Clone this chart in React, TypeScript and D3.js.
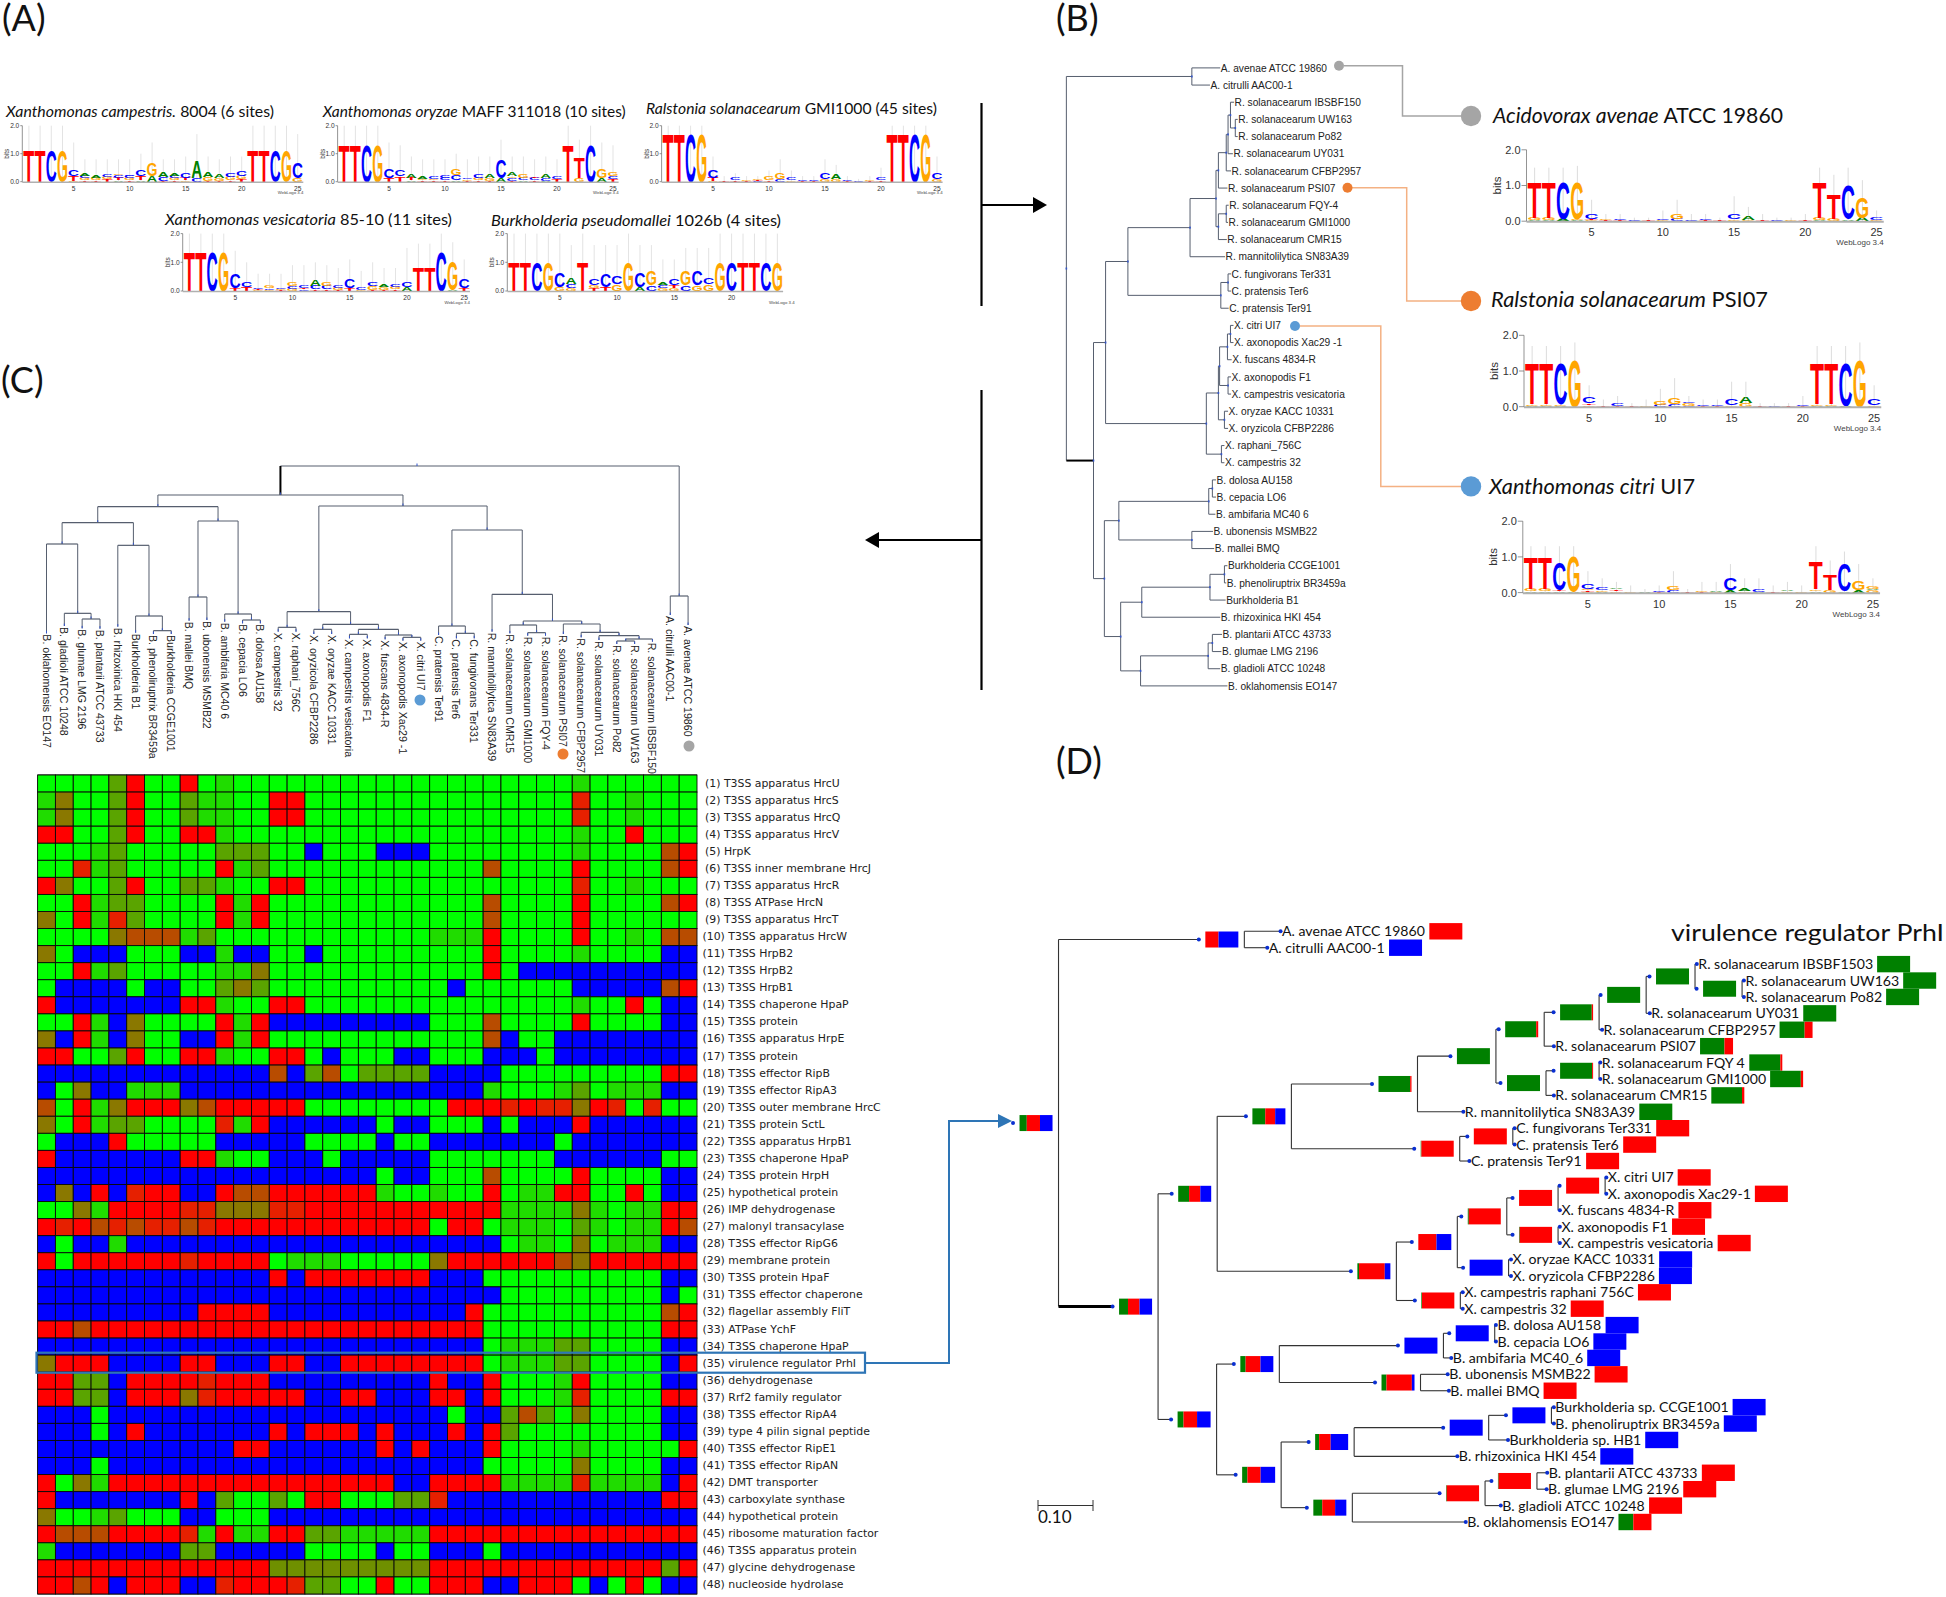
import React from "react";
import * as d3 from "d3";

// ---------- PANEL C HEATMAP ----------
const heatRows = [
"GGGGhRGGRGgGGGGGGGGGGGGGGGGGGGgGGGGGG","goGGhRGGhggGGRRGGGGGGGGGGGGGGGrGGgGGG","goGGhRGGhggGGRRGGGGGGGGGGGGGGGrGGgGGG","RRGGhRGGRRgGGGGGGGGGGGGGGGGGGGgGGRGGG",
"GGGghGGGGGhhhGGBGGGBBBGGGGGGGGgGGGGnR","GGrghGGGGGRghGGGGGGGGGGGGnGGGGRGGGGnR","RoGGhRGGhhgGGRRGGGGGGGGGGGGGGGrGGgGGG","GGRghhGGGGRgRGGGGGGGGGGGGnGGGGRGGGGnR",
"oGRgrhGGGGRgRGGGGGGGGGGGGnGGGGRGGGGGG","GGGGonnnghGGGGGGGGGGGGgggRGGGGRGGgGnn","oGBBBGGGBBgBBGGBGGGGGGGGGRGGGGgGGGGBB","GGRghGGGGGggoGGGGGGGGGGGGRGBBBBBBBBBB",
"GBBBBGBBGGhohGGGGGGGGGGBGGGGGGBBBBBnR","RBBBBBBBRRgGGRRGGGGGGGGGGGGGGGgGGRGBB","GGRgBoGGGGRgRBBBBBBBBBGGGnGGGGRGGGGBB","oBRgBoGGBBRgRGGGGGGGGGGGGnBGGBBBBBBBB",
"RRGGhRGGRRgGGRRGBGGGBBGGGBBBGBBBBBBBB","BBBBBBBBBBBBBnBhnGhhhhBBBBGGGGGGGGGRR","BGoBBgggBBBBBBBBBBBBBBBBBgGGGghGgggBB","nGRgoRRRonRRRRRGGGGGGGGRRRrRrroRrGrGG",
"oGRghhGGGGrgRBBBBBBGBBGGGBGBBBRBBBBBB","GBBBRGGGGGBBBBBGGGGBGGBBBBBBBGBBBBBBB","RBBBBBBBRRgGGBBBGBBBBBGGGGGGGBBBBBBGG","BBBBBBBBBBBBBBBBBBBGBBGGGnGGGGRGGGGBB",
"BoBRBrRRBBRnnRRRRRRgGGgGGRGggRRGGRGBB","GGogRRRRrrooorrRRRRRRRRRRRggggogGggRR","RrRnrnrrnrRRRRRRRRRRRRGRRGgggGhgGggRn","BGBBgBBBBBBBBBBBBBBBBBBBBBGggGoGgggBB",
"RGRRRRRRrRRRRGgggGGGGGoRRRRRRnoRRRRRR","BBBBBBBBBBBBBRBRRRRRRRBBBGGGGGGGGGGBB","BBBBBBBBBBBBBBBBBBBBBBBBBBGGGGGGGGGBG","BBBBBBBBBRRRRBBBBBBBBBBBRGGGGGGGGGGnR",
"RRnRRRRRRRRRRRRRRRRRRRRRRGGGGGGGGGGRR","BBBBBBBBBBBBBBBBBBBBBBBBBGggghhGGGGBB","oRRRBBBBRRBBBRRBBRRRRRRRRGggghhGGGGBR","RRhhBRRRRrRRRBBBBBBBBBRBBRGGGgRGGGGBB",
"RRhhBRRRorRRRRRBBRRBBBRRBRGGGgrGGGGRR","BBBGBBBBBBBBBBBBBBBBBBBGBBhnhGoGGGGBB","BBBGBRBBBBBBBRBRRRBRBBBRBRhGGGGGGGGBB","BBBBBBBBBBBRRBBBBBBRBRBBBRGGGGgGGGGGR",
"BBBGBBBBBBBBBBBBBBBBBBBBBGGGGGoGGGGBB","RGogRRRRRRRRRRRRRRRRBBRRRRggggrggggBR","RBBBBBBBRBhGGhGRRGGGhhrBBBBBBBBBBBBRR","oGGghGGGBBGGGBBBBBBBBBBBBBBBBBBBBBBBB",
"RnnnRRRRrgRggRRhhgggggRRRRRRRRRRRRRRR","gBBBBBBBhhBBBBBGGGGBGGBBBGBBBBBBBBBBB","RRRRRRRRRRRRRvvvvvvvvvRRRRRRRRRRRRRhR","RRnRBRRRBBrRRRrhhGGRGGRRRBBRRRGBGRGBB",
];
const heatColors: Record<string,string> = {G:"#00ff00",g:"#20dc00",h:"#5aa400",v:"#6f9000",o:"#8a7800",n:"#b84c00",r:"#e62000",R:"#ff0000",B:"#0000ff"};
const geneLabels = ["T3SS apparatus HrcU","T3SS apparatus HrcS","T3SS apparatus HrcQ","T3SS apparatus HrcV","HrpK","T3SS inner membrane HrcJ","T3SS apparatus HrcR","T3SS ATPase HrcN","T3SS apparatus HrcT","T3SS apparatus HrcW","T3SS HrpB2","T3SS HrpB2","T3SS HrpB1","T3SS chaperone HpaP","T3SS protein","T3SS apparatus HrpE","T3SS protein","T3SS effector RipB","T3SS effector RipA3","T3SS outer membrane HrcC","T3SS protein SctL","T3SS apparatus HrpB1","T3SS chaperone HpaP","T3SS protein HrpH","hypothetical protein","IMP dehydrogenase","malonyl transacylase","T3SS effector RipG6","membrane protein","T3SS protein HpaF","T3SS effector chaperone","flagellar assembly FliT","ATPase YchF","T3SS chaperone HpaP","virulence regulator PrhI","dehydrogenase","Rrf2 family regulator","T3SS effector RipA4","type 4 pilin signal peptide","T3SS effector RipE1","T3SS effector RipAN","DMT transporter","carboxylate synthase","hypothetical protein","ribosome maturation factor","T3SS apparatus protein","glycine dehydrogenase","nucleoside hydrolase"];

// ---------- TREES (nested: [distance, ...children] / [distance, name]) ----------
const treeB: any = [110,
 [318,[365,"A. avenae ATCC 19860"],[348,"A. citrulli AAC00-1"]],
 [155,
  [175,
   [212,
    [315,
     [358,
      [362,
       [375,
        [378,
         [382,[388,"R. solanacearum IBSBF150"],[390,[394,"R. solanacearum UW163"],[394,"R. solanacearum Po82"]]],
         [386,"R. solanacearum UY031"]],
        [383,"R. solanacearum CFBP2957"]],
       [377,"R. solanacearum PSI07"]],
      [362,[375,[379,"R. solanacearum FQY-4"],[378,"R. solanacearum GMI1000"]],[376,"R. solanacearum CMR15"]]],
     [373,"R. mannitolilytica SN83A39"]],
    [366,[378,[383,"C. fungivorans Ter331"],[383,"C. pratensis Ter6"]],[379,"C. pratensis Ter91"]]],
   [342,
    [362,
     [364,[377,[382,[387,"X. citri UI7"],[387,"X. axonopodis Xac29 -1"]],[384,"X. fuscans 4834-R"]],[378,[383,"X. axonopodis F1"],[383,"X. campestris vesicatoria"]]],
     [372,[378,"X. oryzae KACC 10331"],[378,"X. oryzicola CFBP2286"]]],
    [367,[372,"X. raphani_756C"],[372,"X. campestris 32"]]]],
  [173,
   [197,
    [346,[352,[358,"B. dolosa AU158"],[358,"B. cepacia LO6"]],[357,"B. ambifaria MC40 6"]],
    [318,[353,"B. ubonensis MSMB22"],[355,"B. mallei BMQ"]]],
   [200,
    [235,
     [348,[372,[377,"Burkholderia CCGE1001"],[375,"B. phenoliruptrix BR3459a"]],[374,"Burkholderia B1"]],
     [365,"B. rhizoxinica HKI 454"]],
    [233,
     [345,[352,[368,"B. plantarii ATCC 43733"],[367,"B. glumae LMG 2196"]],[365,"B. gladioli ATCC 10248"]],
     [377,"B. oklahomensis EO147"]]]]]];

const treeC: any = [78,
 [165,
  [200,
   [248,
     [312,[580,"B. oklahomensis EO147"],[520,[558,"B. gladioli ATCC 10248"],[537,[565,"B. glumae LMG 2196"],[566,"B. plantarii ATCC 43733"]]]],
     [316,[560,"B. rhizoxinica HKI 454"],[528,[578,"Burkholderia B1"],[572,[582,"B. phenoliruptrix BR3459a"],[582,"Burkholderia CCGE1001"]]]]],
   [243,
     [471,[542,"B. mallei BMQ"],[540,"B. ubonensis MSMB22"]],
     [522,[545,"B. ambifaria MC40 6"],[540,[550,"B. cepacia LO6"],[550,"B. dolosa AU158"]]]]],
  [198,
   [515,
     [562,[575,"X. campestris 32"],[575,"X. raphani_756C"]],
     [553,
       [568,[582,"X. oryzicola CFBP2286"],[582,"X. oryzae KACC 10331"]],
       [568,
         [583,[595,"X. campestris vesicatoria"],[595,"X. axonopodis F1"]],
         [585,[598,"X. fuscans 4834-R"],[592,[602,"X. axonopodis Xac29 -1"],[602,"X. citri UI7"]]]]]],
   [270,
     [558,[585,"C. pratensis Ter91"],[580,[595,"C. pratensis Ter6"],[595,"C. fungivorans Ter331"]]],
     [463,
       [575,"R. mannitolilytica SN83A39"],
       [543,
         [555,[580,"R. solanacearum CMR15"],[578,[587,"R. solanacearum GMI1000"],[587,"R. solanacearum FQY-4"]]],
         [552,
           [582,"R. solanacearum PSI07"],
           [577,
             [592,"R. solanacearum CFBP2957"],
             [587,
               [600,"R. solanacearum UY031"],
               [597,[603,[612,"R. solanacearum Po82"],[612,"R. solanacearum UW163"]],[605,"R. solanacearum IBSBF150"]]
             ]
           ]
         ]
       ]
     ]
   ]
  ]
 ],
 [468,[525,"A. citrulli AAC00-1"],[555,"A. avenae ATCC 19860"]]];

// composition shares [green, red, blue]
const G = [1,0,0], R = [0,1,0], B = [0,0,1];
const treeD: any = [97,[.22,.4,.38],
 [405,[0,.4,.6],[465,R,"A. avenae ATCC 19860"],[443,B,"A. citrulli AAC00-1"]],
 [262,[.27,.35,.38],
  [360,[.33,.34,.33],
   [483,[.39,.3,.31],
    [692,[.96,.04,0],
     [822,G,
      [902,[.94,.06,0],
       [993,[.96,.04,0],
        [1071,G,
         [1152,G,[1155,G,"R. solanacearum IBSBF1503"],[1230,G,[1233,G,"R. solanacearum UW163"],[1233,G,"R. solanacearum Po82"]]],
         [1077,G,"R. solanacearum UY031"]],
        [998,[.76,.24,0],"R. solanacearum CFBP2957"]],
       [918,[.74,.26,0],"R. solanacearum PSI07"]],
      [905,G,[993,[.97,.03,0],[995,[.94,.06,0],"R. solanacearum FQY 4"],[995,[.93,.07,0],"R. solanacearum GMI1000"]],[918,[.93,.07,0],"R. solanacearum CMR15"]]],
     [768,G,"R. mannitolilytica SN83A39"]],
    [762,[.02,.98,0],[850,R,[853,R,"C. fungivorans Ter331"],[853,R,"C. pratensis Ter6"]],[778,R,"C. pratensis Ter91"]]],
   [657,[.05,.78,.17],
    [758,[0,.55,.45],
     [840,[.03,.97,0],
      [925,R,[1003,R,[1005,R,"X. citri UI7"],[1005,R,"X. axonopodis Xac29-1"]],[928,R,"X. fuscans 4834-R"]],
      [925,[.02,.98,0],[928,R,"X. axonopodis F1"],[928,R,"X. campestris vesicatoria"]]],
     [843,B,[847,B,"X. oryzae KACC 10331"],[847,B,"X. oryzicola CFBP2286"]]],
    [763,[.02,.98,0],[767,R,"X. campestris raphani 756C"],[767,R,"X. campestris 32"]]]],
  [359,[.18,.41,.41],
   [463,[.16,.45,.39],
    [735,B,[820,B,[822,B,"B. dolosa AU158"],[822,B,"B. cepacia LO6"]],[748,B,"B. ambifaria MC40_6"]],
    [697,[.15,.77,.08],[742,R,"B. ubonensis MSMB22"],[744,R,"B. mallei BMQ"]]],
   [466,[.16,.4,.44],
    [587,[.12,.35,.53],
     [810,B,[914,B,[918,B,"Burkholderia sp. CCGE1001"],[918,B,"B. phenoliruptrix BR3459a"]],[842,B,"Burkholderia sp. HB1"]],
     [758,B,"B. rhizoxinica HKI 454"]],
    [584,[.27,.39,.34],
     [804,[.02,.98,0],[890,[.02,.98,0],[907,R,"B. plantarii ATCC 43733"],[906,R,"B. glumae LMG 2196"]],[830,R,"B. gladioli ATCC 10248"]],
     [772,[.45,.55,0],"B. oklahomensis EO147"]]]]]];

// ---------- SEQUENCE LOGOS (stacks bottom to top, bits) ----------
const logoCampestris = ["T1.15","T1.15","C1.15","G1.15","G.03 T.17 C.25","T.05 G.07 C.07 A.08","T.05 G.1 A.1","T.1 G.08 C.1","A.05 T.08 C.1 G.05","T.05 G.07 C.08 C.06","A.05 T.15 C.25","A.22 G.45","T.03 C.15 A.2","T.05 G.08 C.08 A.08","G.05 T.07 C.2","C.14 A.6","T.04 G.12 A.2","T.03 G.1 A.14","T.06 G.12 C.14","T.08 G.12 C.18","T1.15","T1.15","C1.15","G1.15","G.12 C.55"];
const errCampestris = [2,2,2,2,1.4,.8,.8,.8,.8,.8,1,1.4,.8,.8,.9,1.7,.9,.8,.9,.9,2,2,2,2,1.7];
const logoOryzae = ["T1.35","T1.35","C1.35","G1.35","T.15 C.35","T.2 C.25","A.05 T.1 A.15","T.05 G.06 A.07","T.05 G.05 C.08","T.05 C.08 C.08","A.05 C.2 G.25","T.03 G.05 C.06","T.06 G.08 C.14","T.04 G.1 A.15","A.15 C.65","T.03 C.1 G.06 A.15","A.05 C.1 G.15","T.05 C.08 T.06","A.04 C.1 A.15","T.08 C.08","T1.35","G.15 T.75","C1.35","A.12 G.35","T.1 C.1 G.12"];
const errOryzae = [2,2,2,2,1.4,1.3,.9,.8,.8,.8,1,.8,.9,.9,1.5,.9,.9,.8,.9,.8,2,1.5,2,1.4,1.3];
const logoGmi = ["T1.75","T1.75","C1.75","G1.75","G.03 T.12 C.3","T.02","T.05 C.1","T.03 G.05","C.03 T.03 G.04","T.06 G.15","C.1 G.25","G.05 C.1","T.03 C.02","T.02 C.06","G.1 C.25","G.1 A.2","T.02 C.03","C.03","T.02 G.04","T.05 C.1","T1.75","T1.75","C1.75","G1.75","G.1 C.25"];
const errGmi = [2,2,2,2,.9,.2,.3,.2,.2,.4,.8,.4,.2,.2,.8,.6,.2,.1,.2,.5,2,2,2,2,.9];
const logoVes = ["T1.4","T1.4","C1.4","G1.4","T.1 C.5","T.15 C.2","G.03 T.05 C.06","G.05 C.06 G.08","T.03 G.05 C.06","G.08 C.1 G.12","C.06 T.06 C.1","T.06 C.12 A.25","T.06 C.12 G.15","T.05 G.07 C.1","T.1 C.3","G.05 C.1","T.05 G.12 C.15","T.05 G.08 A.08","T.06 G.08 C.08","A.15 C.2","T.85","T.85","C1.4","A.05 G1","T.1 C.3"];
const errVes = [2,2,2,2,1.4,1,.6,.6,.6,.9,.9,1,.9,.8,1.1,.7,1,.8,.8,1.5,1.65,1.65,2,1.7,1.1];
const logoPseudo = ["T1","T1","C1","G1","G.15 C.5","G.1 C.15 A.25","T1","T.1 G.1 C.25","T.15 C.45","G.25 C.27","G1","A.15 C.5","C.2 G.5","G.1 C.1 A.1","G.1 T.1 C.25","C.2 G.5","G.2 C.5","G.25 C.25","G1","C1","T1","T1","C1","G1"];
const errPseudo = [2,2,2,2,2,1.6,2,1.6,1.6,1.6,2,1.6,1.6,1.1,1.1,1.5,1.5,1.5,2,2,2,2,2,2];
const logoAvenae = ["A.03 G.07 T1","A.03 G.07 T1","A.07 C1.03","A.03 G.03 G1.03","G.03 T.04 C.15","T.02 G.02","T.02 C.02","C.02","T.02","G.02 C.04","C.06 G.14","C.03","T.02 C.02","T.02","G.05 C.16","G.04 A.1","T.02","C.02","G.02","T.02","A.03 G.06 T1","G.06 T.7","A.05 C.98","A.1 G.6","G.04 C.08"];
const errAvenae = [1.5,1.5,1.5,1.55,.6,.2,.2,.1,.1,.3,.6,.2,.2,.1,.7,.4,.2,.1,.1,.2,1.5,1.3,1.5,1.15,.3];
const logoPsi = ["A.03 G.05 T1.15","A.03 G.05 T1.15","A.03 G.05 C1.15","G1.35","G.05 T.04 C.2","T.02","T.02 C.08","T.03","G.03","C.06 G.12","C.08 G.2","C.03 G.08 C.03","T.03 C.03","T.02 C.02","G.05 C.2","G.1 A.2","T.02","C.02","T.02","T.02 C.05","A.03 G.05 T1.15","A.03 G.05 T1.15","A.03 C1.25","G1.35","G.05 C.18"];
const errPsi = [1.7,1.7,1.7,1.8,.6,.2,.3,.1,.2,.5,.8,.3,.2,.2,.7,.7,.1,.1,.1,.3,1.7,1.7,1.7,1.8,.6];
const logoCitri = ["A.04 G.06 T.9","A.04 G.06 T.9","A.04 T.03 C.8","A.03 G1","G.03 T.03 G.05 C.15","A.03 G.05 C.07","G.04 T.05 A.03","G.03","A.02","T.02 C.04","C.06 G.12","T.02","T.03 G.04","G.03 A.03","A.06 C.35","G.05 A.08","A.03 C.06","T.05","G.05 A.05","G.04","A.05 G.05 T.8","G.08 T.45","A.05 C.8","A.07 G.25","G.06 A.04 G.06"];
const errCitri = [1.3,1.3,1.3,1.3,.6,.4,.3,.2,.1,.2,.6,.1,.3,.3,.8,.4,.4,.2,.3,.2,1.3,.9,1.15,.8,.4];

const logosA = [
 {title:["Xanthomonas campestris."," 8004 (6 sites)"],stacks:logoCampestris,err:errCampestris},
 {title:["Xanthomonas oryzae"," MAFF 311018 (10 sites)"],stacks:logoOryzae,err:errOryzae},
 {title:["Ralstonia solanacearum"," GMI1000 (45 sites)"],stacks:logoGmi,err:errGmi},
 {title:["Xanthomonas vesicatoria"," 85-10 (11 sites)"],stacks:logoVes,err:errVes},
 {title:["Burkholderia pseudomallei"," 1026b (4 sites)"],stacks:logoPseudo,err:errPseudo},
];
const logosB = [
 {title:["Acidovorax avenae"," ATCC 19860"],stacks:logoAvenae,err:errAvenae},
 {title:["Ralstonia solanacearum"," PSI07"],stacks:logoPsi,err:errPsi},
 {title:["Xanthomonas citri"," UI7"],stacks:logoCitri,err:errCitri},
];

const letterColor: Record<string,string> = {T:"#ff0000",C:"#0000ff",G:"#ffa500",A:"#008000"};
const letterAdv: Record<string,number> = {T:.611,C:.722,G:.778,A:.722};
const SANS = "'Liberation Sans', Arial, sans-serif";
const CAL = "Lato, 'Open Sans', sans-serif";

function Logo({stacks,err,x0,y0,col,bit,small}:{stacks:string[],err:number[],x0:number,y0:number,col:number,bit:number,small:boolean}) {
  const yS = d3.scaleLinear().domain([0,2]).range([y0,y0-2*bit]);
  const xS = d3.scaleLinear().domain([0,stacks.length]).range([x0,x0+col*stacks.length]);
  const fs = small?6.6:11;
  const tks = [0,1,2];
  const tl = small?3:6;
  return <g>
    {err.map((e,i)=><line key={"e"+i} x1={xS(i+.5)} x2={xS(i+.5)} y1={y0} y2={yS(e)} stroke="#dcdcdc" strokeWidth={small?.8:1}/>)}
    {stacks.map((s,i)=>{
      let acc=0;
      return <g key={i}>{s.split(" ").map((t,j)=>{
        const L=t[0],v=parseFloat(t.slice(1));
        const by=yS(acc); acc+=v;
        const h=by-yS(acc);
        const sx=(col*.98)/(letterAdv[L]*10), sy=h/7.2;
        return <text key={j} transform={`translate(${xS(i)},${by}) scale(${sx},${sy})`} fontFamily={SANS} fontWeight={700} fontSize={10} fill={letterColor[L]}>{L}</text>;
      })}</g>;
    })}
    <line x1={x0-1} x2={xS(stacks.length)} y1={y0+.6} y2={y0+.6} stroke="#b0b0b0" strokeWidth={small?1.5:2}/>
    <line x1={x0-1} x2={x0-1} y1={y0} y2={yS(2)} stroke="#666" strokeWidth={.7}/>
    {tks.map(t=><g key={t}>
      <line x1={x0-tl} x2={x0-1} y1={yS(t)} y2={yS(t)} stroke="#666" strokeWidth={.7}/>
      <text x={x0-tl-1} y={yS(t)+fs*.36} textAnchor="end" fontFamily={SANS} fontSize={fs} fill="#333">{t.toFixed(1)}</text>
    </g>)}
    <text transform={`translate(${x0-(small?14:27)},${yS(1)}) rotate(-90)`} textAnchor="middle" fontFamily={SANS} fontSize={small?6.4:11.5} fill="#333">bits</text>
    {[5,10,15,20,25].filter(t=>t<=stacks.length).map(t=><text key={t} x={xS(t-.5)} y={y0+(small?9:15)} textAnchor="middle" fontFamily={SANS} fontSize={fs} fill="#333">{t}</text>)}
    <text x={x0+col*25} y={y0+(small?12.5:24)} textAnchor="end" fontFamily={SANS} fontSize={small?4.3:8} fill="#444">WebLogo 3.4</text>
  </g>;
}

const kidsPlain = (d:any)=> typeof d[1]==="string"?null:d.slice(1);
const kidsComp = (d:any)=> typeof d[2]==="string"?null:d.slice(2);

function layout(data:any,kids:any,pos:(i:number)=>number){
  const root:any=d3.hierarchy(data,kids);
  root.leaves().forEach((l:any,i:number)=>{l.t=pos(i);});
  root.eachAfter((n:any)=>{ if(n.children) n.t=(n.children[0].t+n.children[n.children.length-1].t)/2; });
  return root;
}

function TreeB(){
  const xS=d3.scaleLinear().domain([0,1568]).range([1000,1946]);
  const yS=d3.scaleLinear().domain([0,36]).range([67.9,685.9]);
  const root=layout(treeB,kidsPlain,yS);
  const nodes=root.descendants();
  return <g>
    {nodes.map((n:any,i:number)=>{
      const x=xS(n.data[0]),y=n.t;
      const thick=n.parent&&n.parent.depth===0&&!!n.children&&n.data[0]===155;
      return <g key={i}>
        {n.parent&&<line x1={xS(n.parent.data[0])} x2={x} y1={y} y2={y} stroke={thick?"#000":"#565e6e"} strokeWidth={thick?2:1}/>}
        {n.children&&<line x1={x} x2={x} y1={n.children[0].t} y2={n.children[n.children.length-1].t} stroke="#565e6e" strokeWidth={1}/>}
        {n.children&&<rect x={x-.8} y={y-1} width={1.6} height={2} fill="#3355cc"/>}
        {!n.children&&<text x={x+.5} y={y+3.6} fontFamily={SANS} fontSize={10.2} fill="#222">{n.data[1]}</text>}
      </g>;
    })}
  </g>;
}

function TreeC({band}:{band:any}){
  const yS=d3.scaleLinear().domain([0,1020]).range([440,780]);
  const root=layout(treeC,kidsPlain,(i:number)=>band(i)+band.bandwidth()/2);
  const nodes=root.descendants();
  return <g>
    {nodes.map((n:any,i:number)=>{
      const x=n.t,y=yS(n.data[0]);
      const thick=n.depth===1&&n.data[0]===165;
      return <g key={i}>
        {n.parent&&<line x1={x} x2={x} y1={yS(n.parent.data[0])} y2={y} stroke={thick?"#000":"#565e6e"} strokeWidth={thick?2:1}/>}
        {n.parent&&<line x1={x} x2={x} y1={y-2.5} y2={y} stroke="#3355cc" strokeWidth={1}/>}
        {n.children&&<line x1={n.children[0].t} x2={n.children[n.children.length-1].t} y1={y} y2={y} stroke="#565e6e" strokeWidth={1.2}/>}
        {!n.children&&<text transform={`translate(${x-4},${y+1}) rotate(90)`} fontFamily={SANS} fontSize={10.6} fill="#222">{n.data[1]}</text>}
      </g>;
    })}
    <line x1={417} x2={417} y1={463.5} y2={466} stroke="#3355cc" strokeWidth={1}/>
  </g>;
}

const compColors=["#008000","#ff0000","#0000ff"];
function CompBox({x,y,w,h,comp}:{x:number,y:number,w:number,h:number,comp:number[]}){
  let acc=0;
  return <g>{comp.map((c,i)=>{const r=<rect key={i} x={x+acc*w} y={y-h/2} width={c*w} height={h} fill={compColors[i]}/>;acc+=c;return r;})}</g>;
}

const DFONT=14.1;
function measure(s:string){
  const c=document.createElement("canvas").getContext("2d")!;
  c.font=`${DFONT}px Lato`;
  return c.measureText(s).width;
}

function TreeD(){
  const xS=d3.scaleLinear().domain([0,1568]).range([1000,1946]);
  const yS=d3.scaleLinear().domain([0,36]).range([931.3,1522]);
  const root=layout(treeD,kidsComp,yS);
  const nodes=root.descendants();
  const gap=45.5, bw=33, bh=16.4;
  return <g>
    {nodes.map((n:any,i:number)=>{
      const v=xS(n.data[0]),y=n.t;
      const dot=n.children?v-gap:v;
      const thick=n.depth===1&&n.data[0]===262;
      return <g key={i}>
        {n.parent&&<line x1={xS(n.parent.data[0])} x2={dot} y1={y} y2={y} stroke={thick?"#000":"#333"} strokeWidth={thick?3:1.1}/>}
        {n.children&&<line x1={v} x2={v} y1={n.children[0].t} y2={n.children[n.children.length-1].t} stroke="#333" strokeWidth={1.1}/>}
        <circle cx={dot} cy={y} r={2} fill="#0a2fd0"/>
        {n.children&&<CompBox x={dot+6.5} y={y} w={bw} h={bh-.4} comp={n.data[1]}/>}
        {!n.children&&<text x={v+1.5} y={y+5} fontFamily={CAL} fontSize={DFONT} fill="#111">{n.data[2]}</text>}
        {!n.children&&<CompBox x={v+1.5+measure(n.data[2])+4} y={y} w={bw} h={bh} comp={n.data[1]}/>}
      </g>;
    })}
  </g>;
}

export default function App(){
  const cols=d3.range(37), rows=d3.range(48);
  const band=d3.scaleBand<number>().domain(cols).range([37.6,697]);
  const rowBand=d3.scaleBand<number>().domain(rows).range([775,1594]);
  const aPos=[
   {x:23.3,y:181.7,col:11.2,bit:28,tx:6,ty:116.7,tw:268},
   {x:338.6,y:181.7,col:11.2,bit:28,tx:322.7,ty:117,tw:303},
   {x:662.6,y:181.7,col:11.2,bit:28,tx:646,ty:114,tw:291},
   {x:183.7,y:291,col:11.45,bit:28.7,tx:165,ty:225,tw:287},
   {x:508.3,y:291,col:11.45,bit:28.7,tx:491,ty:225.7,tw:290},
  ];
  const bPos=[
   {x:1527.5,y:221.2,tx:1493,ty:122.5,tw:290},
   {x:1525,y:406.7,tx:1491,ty:307,tw:277},
   {x:1523.8,y:592.6,tx:1489,ty:494,tw:206},
  ];
  return <svg width={1946} height={1597} viewBox="0 0 1946 1597" style={{position:"absolute",left:0,top:0,background:"#fff"}}>
    {/* panel letters */}
    {[["(A)",2,31],["(B)",1056,31],["(C)",1,393],["(D)",1056,774]].map(([t,x,y]:any)=><text key={t} x={x} y={y} fontFamily={CAL} fontSize={36} fill="#111">{t}</text>)}

    {/* panel A */}
    {logosA.map((l,i)=>{const p=aPos[i];return <g key={i}>
      <text x={p.tx} y={p.ty} fontFamily={CAL} fontSize={15} fill="#111" textLength={p.tw} lengthAdjust="spacingAndGlyphs"><tspan fontStyle="italic">{l.title[0]}</tspan><tspan>{l.title[1]}</tspan></text>
      <Logo stacks={l.stacks} err={l.err} x0={p.x} y0={p.y} col={p.col} bit={p.bit} small={true}/>
    </g>;})}

    {/* flow arrows */}
    <line x1={981.5} x2={981.5} y1={103} y2={306} stroke="#000" strokeWidth={2.2}/>
    <line x1={981.5} x2={1035} y1={205} y2={205} stroke="#000" strokeWidth={2.2}/>
    <polygon points="1047,205 1033,197 1033,213" fill="#000"/>
    <line x1={981.5} x2={981.5} y1={390} y2={690} stroke="#000" strokeWidth={2.2}/>
    <line x1={981.5} x2={878} y1={540} y2={540} stroke="#000" strokeWidth={2.2}/>
    <polygon points="865,540 879,532 879,548" fill="#000"/>

    {/* panel B */}
    <TreeB/>
    <polyline points="1344,65.7 1402.5,65.7 1402.5,116 1462,116" fill="none" stroke="#a5a5a5" strokeWidth={1.5}/>
    <polyline points="1352,187.7 1406.7,187.7 1406.7,301 1462,301" fill="none" stroke="#f4b183" strokeWidth={1.5}/>
    <polyline points="1300,326 1380.8,326 1380.8,486.4 1462,486.4" fill="none" stroke="#f4b183" strokeWidth={1.5}/>
    <circle cx={1339} cy={65.7} r={5} fill="#a5a5a5"/>
    <circle cx={1347.5} cy={187.7} r={5} fill="#ed7d31"/>
    <circle cx={1295} cy={326} r={5} fill="#5b9bd5"/>
    <circle cx={1471} cy={116} r={10.2} fill="#a5a5a5"/>
    <circle cx={1471} cy={301} r={10.2} fill="#ed7d31"/>
    <circle cx={1471} cy={486.4} r={10.2} fill="#5b9bd5"/>
    {logosB.map((l,i)=>{const p=bPos[i];return <g key={i}>
      <text x={p.tx} y={p.ty} fontFamily={CAL} fontSize={22} fill="#111" textLength={p.tw} lengthAdjust="spacingAndGlyphs"><tspan fontStyle="italic">{l.title[0]}</tspan><tspan>{l.title[1]}</tspan></text>
      <Logo stacks={l.stacks} err={l.err} x0={p.x} y0={p.y} col={14.25} bit={35.7} small={false}/>
    </g>;})}

    {/* panel C */}
    <TreeC band={band}/>
    <circle cx={420} cy={700} r={5.5} fill="#5b9bd5"/>
    <circle cx={563} cy={754} r={5.5} fill="#ed7d31"/>
    <circle cx={689} cy={746} r={5.5} fill="#a5a5a5"/>
    <rect x={37.6} y={774.5} width={659.4} height={820} fill="#111"/>
    {rows.map(r=>cols.map(c=><rect key={r+"-"+c} x={band(c)} y={rowBand(r)} width={band.bandwidth()} height={rowBand.bandwidth()} fill={heatColors[heatRows[r][c]]} stroke="#0a0a0a" strokeWidth={.9}/>))}
    {rows.map(r=><text key={r} x={r<9?705:702.5} y={rowBand(r)!+rowBand.bandwidth()/2+3} fontFamily="'DejaVu Sans', sans-serif" fontSize={10.9} fill="#222">{`(${r+1}) ${geneLabels[r]}`}</text>)}
    <rect x={36.5} y={1352.7} width={828.5} height={20} fill="none" stroke="#2e75b6" strokeWidth={2.2}/>
    <polyline points="865,1363 949,1363 949,1121 1000,1121" fill="none" stroke="#2e75b6" strokeWidth={2}/>
    <polygon points="1012,1121 998,1114 998,1128" fill="#2e75b6"/>

    {/* panel D */}
    <TreeD/>
    <text x={1671} y={941} fontFamily={CAL} fontSize={24} fill="#111" textLength={273} lengthAdjust="spacingAndGlyphs">virulence regulator PrhI</text>
    <line x1={1038} x2={1093} y1={1505.5} y2={1505.5} stroke="#333" strokeWidth={1}/>
    <line x1={1038} x2={1038} y1={1500} y2={1511} stroke="#333" strokeWidth={1}/>
    <line x1={1093} x2={1093} y1={1500} y2={1511} stroke="#333" strokeWidth={1}/>
    <text x={1038} y={1523} fontFamily={CAL} fontSize={17} fill="#111">0.10</text>
  </svg>;
}
